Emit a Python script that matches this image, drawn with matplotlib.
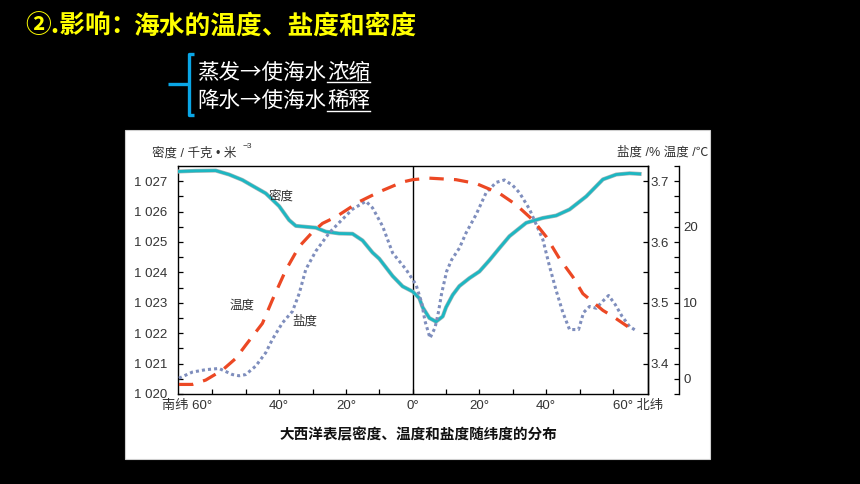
import matplotlib
matplotlib.use("Agg")
import matplotlib.pyplot as plt
import matplotlib.patheffects as pe
from matplotlib.patches import Rectangle
from matplotlib.lines import Line2D
from matplotlib.ticker import FixedLocator

FONTS = ["Liberation Sans", "Noto Sans CJK SC", "DejaVu Sans"]
CJK = ["Noto Sans CJK SC", "DejaVu Sans"]
plt.rcParams["font.family"] = FONTS

# ---- data ---------------------------------------------------------------
# density (kg/m3) vs latitude (negative = south)
DENS_LAT = [-70, -65, -59, -55, -51, -48, -44, -40, -37, -35, -32, -29, -26,
            -22, -18, -15, -12, -10, -6, -3, 0, 2, 3, 5, 7, 9, 10, 12, 14,
            17, 20, 23, 26, 29, 34, 39, 43, 47, 52, 57, 61, 65, 68]
DENS = [1027.32, 1027.34, 1027.35, 1027.22, 1027.04, 1026.85, 1026.60,
        1026.18, 1025.72, 1025.53, 1025.50, 1025.47, 1025.34, 1025.28,
        1025.27, 1025.05, 1024.65, 1024.45, 1023.88, 1023.54, 1023.37,
        1023.15, 1022.85, 1022.50, 1022.38, 1022.55, 1022.85, 1023.26,
        1023.55, 1023.81, 1024.03, 1024.40, 1024.80, 1025.19, 1025.63,
        1025.79, 1025.87, 1026.07, 1026.50, 1027.06, 1027.22, 1027.26,
        1027.24]

# temperature (deg C)
TEMP_LAT = [-70, -66, -62, -57, -53, -50, -45, -42, -38, -34, -30, -27, -23,
            -16, -10, -3, 0, 5, 13, 19, 26, 31, 36, 40, 44, 48, 51, 54, 57,
            60, 63, 66]
TEMP = [-0.74, -0.74, -0.17, 1.14, 2.68, 4.43, 7.29, 10.4, 14.3, 17.4, 19.3,
        20.45, 21.3, 23.3, 24.6, 25.9, 26.2, 26.4, 26.2, 25.7, 24.4, 22.9,
        20.9, 18.7, 15.8, 13.4, 11.2, 10.1, 9.0, 8.2, 7.3, 6.4]

# salinity (%)
SAL_LAT = [-70, -66, -62, -58, -56, -54, -52, -50, -47, -44, -42, -39, -36,
           -34, -32, -29, -25, -22, -18, -14, -12, -9, -6, -2, 1, 2.7, 3.7,
           5.2, 6.7, 7.7, 8.7, 10.2, 11.7, 14, 16, 19, 22, 25, 27.5, 30, 32,
           35, 39, 41, 43, 45, 47, 49.7, 51.2, 53, 55, 57, 58.7, 60.7, 62.7,
           65, 66.7]
SAL = [3.376, 3.386, 3.390, 3.392, 3.387, 3.382, 3.380, 3.382, 3.396, 3.418,
       3.440, 3.467, 3.486, 3.515, 3.555, 3.585, 3.615, 3.632, 3.654, 3.667,
       3.656, 3.626, 3.582, 3.555, 3.530, 3.500, 3.470, 3.442, 3.459, 3.484,
       3.516, 3.552, 3.571, 3.590, 3.615, 3.645, 3.681, 3.698, 3.702, 3.693,
       3.681, 3.654, 3.604, 3.560, 3.520, 3.484, 3.456, 3.456, 3.484, 3.494,
       3.491, 3.503, 3.512, 3.497, 3.478, 3.461, 3.455]

DENS_TICKS = [1020, 1021, 1022, 1023, 1024, 1025, 1026, 1027]
DENS_LABELS = ["1 020", "1 021", "1 022", "1 023", "1 024", "1 025", "1 026", "1 027"]
SAL_TICKS = [3.4, 3.5, 3.6, 3.7]
TEMP_TICKS = [0, 10, 20]
LAT_TICKS = [-60, -40, -20, 0, 20, 40, 60]
LAT_LABELS = ["南纬 60°", "40°", "20°", "0°", "20°", "40°", "60° 北纬"]

TEAL = "#1db7c2"
RED = "#ec4824"
SLATE = "#7f8ebd"
TXT = "#333333"

W, H = 860, 484


def fx(px):
    return px / W


def fy(py):
    return 1 - py / H


fig = plt.figure(figsize=(8.6, 4.84), dpi=100, facecolor="black")

# white panel holding the figure
fig.patches.append(Rectangle((fx(125), fy(459)), 585 / W, 329 / H,
                             transform=fig.transFigure, facecolor="white",
                             edgecolor="#cfcfcf", lw=0.8, zorder=-1))

# header texts
fig.text(fx(25), fy(26), "②.影响：", color="#ffff00", fontsize=18.5,
         fontweight="bold", va="center", ha="left", family=CJK)
fig.text(fx(133), fy(26), "海水的温度、盐度和密度", color="#ffff00",
         fontsize=18.5, fontweight="bold", va="center", ha="left", family=CJK)
for yy, head, tail in ((73, "蒸发→使海水", "浓缩"), (101, "降水→使海水", "稀释")):
    fig.text(fx(197), fy(yy), head, color="white", fontsize=15.5,
             va="center", ha="left", family=CJK)
    fig.text(fx(327), fy(yy), tail, color="white", fontsize=15.5,
             va="center", ha="left", family=CJK)
for yy in (82, 111):
    fig.add_artist(Line2D([fx(327), fx(370)], [fy(yy), fy(yy)], color="white",
                          lw=1.0, transform=fig.transFigure))
# blue bracket
brace_kw = dict(color="#0aa6e6", lw=2.4, transform=fig.transFigure,
                solid_capstyle="butt")
fig.add_artist(Line2D([fx(194), fx(189), fx(189), fx(194)],
                      [fy(54), fy(54), fy(115), fy(115)], **brace_kw))
fig.add_artist(Line2D([fx(168), fx(189)], [fy(84), fy(84)], **brace_kw))

# ---- chart ---------------------------------------------------------------
ax = fig.add_axes([fx(178.3), fy(394), (648 - 178.3) / W, (394 - 166) / H])
ax.set_facecolor("white")
ax_s = ax.twinx()
ax_t = ax.twinx()

ax.plot(DENS_LAT, DENS, color=TEAL, lw=2.0, solid_joinstyle="round",
        path_effects=[pe.Stroke(linewidth=2.9, foreground="#a3b6b8"), pe.Normal()],
        zorder=3)
ax_t.plot(TEMP_LAT, TEMP, color=RED, lw=2.3, linestyle=(0, (4.5, 3.2)),
          dash_capstyle="butt")
ax_s.plot(SAL_LAT, SAL, color=SLATE, lw=2.2, linestyle=(0, (1.0, 1.0)))
ax.axvline(0, color="black", lw=1.0, zorder=2)

ax.set_xlim(-70.2, 70.5)
ax.set_ylim(1020, 1027.5)
ax_s.set_ylim(3.35, 3.725)
ax_t.set_ylim(-2, 28)

for sp in ax.spines.values():
    sp.set_linewidth(1.0)
for a in (ax_s, ax_t):
    for side in ("top", "bottom", "left"):
        a.spines[side].set_visible(False)
ax_s.spines["right"].set_linewidth(1.0)
ax_t.spines["right"].set_linewidth(1.0)
ax_t.spines["right"].set_position(("outward", 22.5))

tick_kw = dict(direction="in", length=3.5, width=0.9, colors="black",
               labelcolor=TXT, labelsize=9.5)

ax.set_yticks(DENS_TICKS)
ax.set_yticklabels(DENS_LABELS)
ax.yaxis.set_minor_locator(FixedLocator([1020.5 + i for i in range(7)]))
ax.tick_params(axis="y", which="both", left=True, right=False, pad=8, **tick_kw)

ax.set_xticks(LAT_TICKS)
ax.set_xticklabels(LAT_LABELS)
ax.xaxis.set_minor_locator(FixedLocator([-50, -30, -10, 10, 30, 50]))
ax.tick_params(axis="x", which="both", bottom=True, top=False, pad=4, **tick_kw)
lbls = ax.get_xticklabels()
lbls[0].set_horizontalalignment("right")
lbls[-1].set_horizontalalignment("left")

ax_s.set_yticks(SAL_TICKS)
ax_s.set_yticklabels([f"{v:.1f}" for v in SAL_TICKS])
ax_s.yaxis.set_minor_locator(FixedLocator([3.45, 3.55, 3.65]))
ax_s.tick_params(axis="y", which="both", pad=2, **tick_kw)

ax_t.set_yticks(TEMP_TICKS)
ax_t.yaxis.set_minor_locator(FixedLocator(list(range(-2, 29, 2))))
ax_t.tick_params(axis="y", which="both", pad=3, **tick_kw)

# in-chart labels
ax.text(-39.5, 1026.5, "密度", fontsize=9, color=TXT, ha="center", va="center")
ax.text(-51.0, 1022.9, "温度", fontsize=9, color=TXT, ha="center", va="center")
ax.text(-32.4, 1022.38, "盐度", fontsize=9, color=TXT, ha="center", va="center")

fig.text(fx(151.5), fy(153), "密度 / 千克 • 米", fontsize=9, color=TXT,
         ha="left", va="center")
fig.text(fx(243), fy(147), "−3", fontsize=6, color=TXT, ha="left", va="center")
fig.text(fx(708), fy(152), "盐度 /% 温度 /℃", fontsize=9, color=TXT,
         ha="right", va="center")
fig.text(fx(418), fy(435), "大西洋表层密度、温度和盐度随纬度的分布", fontsize=10.5,
         fontweight="bold", color="#111111", ha="center", va="center")

fig.savefig("out.png", dpi=100, facecolor="black")
